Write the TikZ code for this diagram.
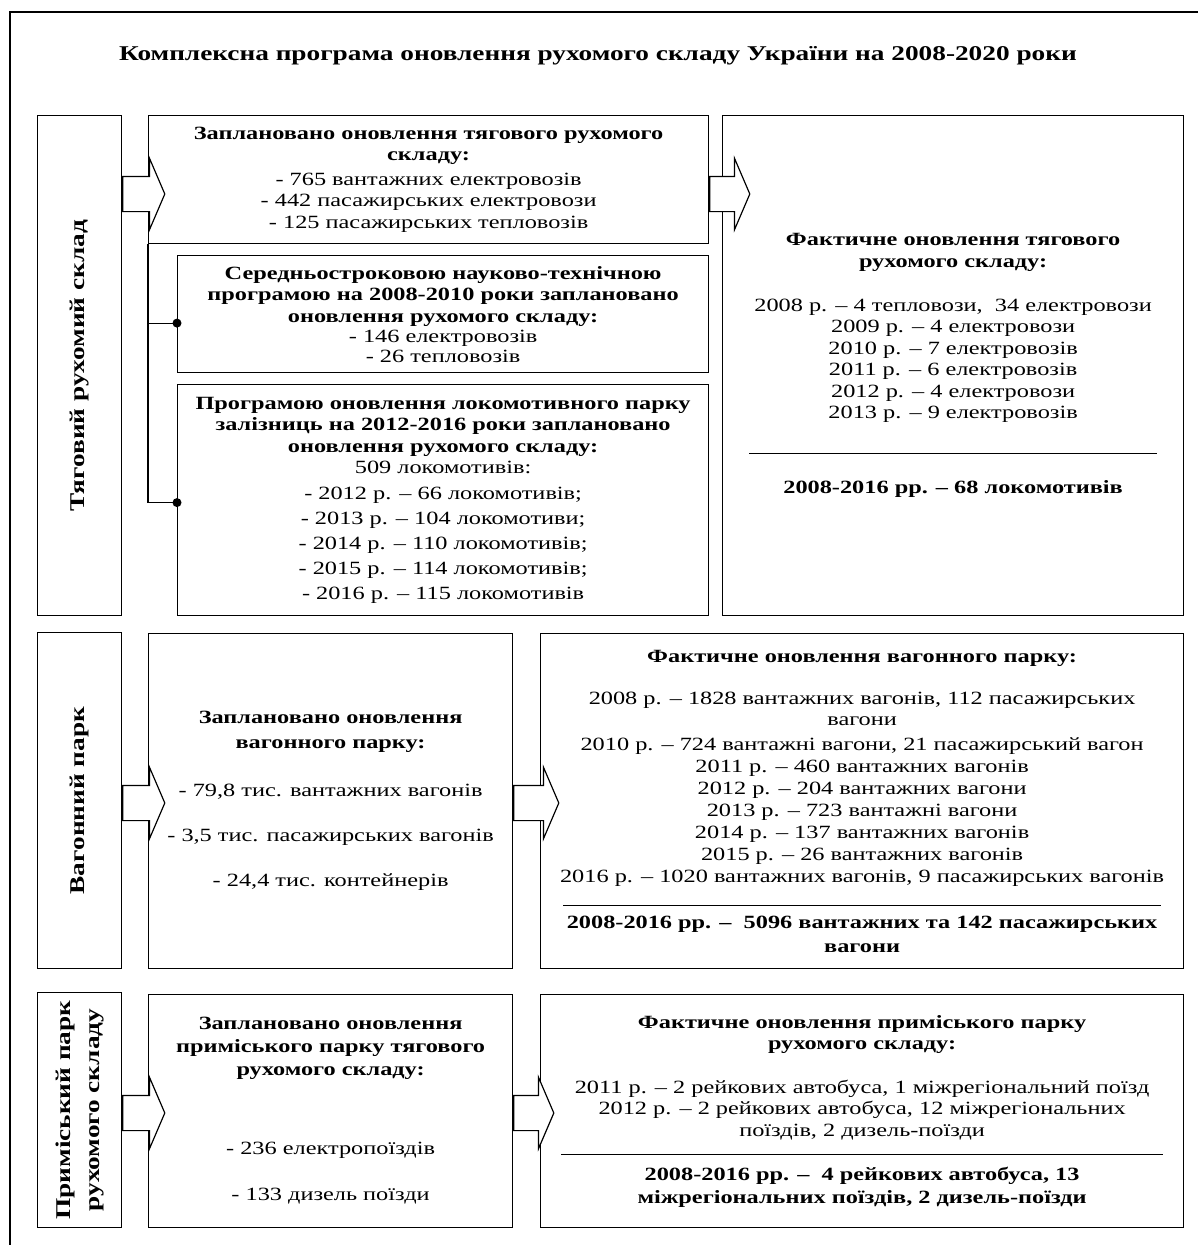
\documentclass[tikz,border=0pt]{standalone}
\usepackage{fontspec}
\setmainfont{Liberation Serif}[FakeStretch=1.3]
\usetikzlibrary{arrows,shapes.arrows}

\begin{document}
\begin{tikzpicture}[x=1pt,y=-1pt,line width=1.2pt,font=\fontsize{18.7pt}{21.5pt}\selectfont]
    \tikzstyle{box}=[draw,align=center,inner sep=0pt,anchor=north west]
    \tikzstyle{side}=[box,font=\fontsize{21pt}{29pt}\selectfont\bfseries]
    \tikzstyle{bigarrow}=[draw,fill=white,single arrow,anchor=tail,inner xsep=0pt,inner ysep=17pt,
        minimum height=42pt,single arrow head extend=18pt,single arrow tip angle=133.6]

    \useasboundingbox (0,0) rectangle (1198,1245);
    \draw[line width=1.6pt] (10,1250) |- (1205,12);

    \node[font=\fontsize{21pt}{24pt}\selectfont\bfseries] (T) at (598,56)
        {Комплексна програма оновлення рухомого складу України на 2008-2020 роки};

    \node[side,minimum width=84pt,minimum height=500pt] (A) at (37,115)
        {\rotatebox{90}{Тяговий рухомий склад}};
    \node[box,minimum width=560pt,minimum height=128pt] (B) at (148,115)
        {\textbf{Заплановано оновлення тягового рухомого}\\
         \textbf{складу:}\\[3pt]
         - 765 вантажних електровозів\\
         - 442 пасажирських електровози\\
         - 125 пасажирських тепловозів};
    \node[box,minimum width=531pt,minimum height=117pt] (B1) at (177,255)
        {\textbf{Середньостроковою науково-технічною}\\
         \textbf{програмою на 2008-2010 роки заплановано}\\
         \textbf{оновлення рухомого складу:}\\[-1pt]
         - 146 електровозів\\[-2pt]
         - 26 тепловозів};
    \node[box,minimum width=531pt,minimum height=231pt] (B2) at (177,384)
        {\textbf{Програмою оновлення локомотивного парку}\\
         \textbf{залізниць на 2012-2016 роки заплановано}\\
         \textbf{оновлення рухомого складу:}\\
         509 локомотивів:\\[4pt]
         - 2012 р. – 66 локомотивів;\\[3.5pt]
         - 2013 р. – 104 локомотиви;\\[3.5pt]
         - 2014 р. – 110 локомотивів;\\[3.5pt]
         - 2015 р. – 114 локомотивів;\\[3.5pt]
         - 2016 р. – 115 локомотивів};
    \node[box,minimum width=461pt,minimum height=500pt] (C) at (722,115)
        {\textbf{Фактичне оновлення тягового}\\
         \textbf{рухомого складу:}\\[22.5pt]
         2008 р. – 4 тепловози, \ 34 електровози\\
         2009 р. – 4 електровози\\
         2010 р. – 7 електровозів\\
         2011 р. – 6 електровозів\\
         2012 р. – 4 електровози\\
         2013 р. – 9 електровозів\\[13.5pt]
         \rule{408pt}{1.2pt}\\[18.5pt]
         \textbf{2008-2016 рр. – 68 локомотивів}};

    \node[side,minimum width=84pt,minimum height=336pt] (D) at (37,632)
        {\rotatebox{90}{Вагонний парк}};
    \node[box,minimum width=364pt,minimum height=335pt] (E) at (148,633)
        {\textbf{Заплановано оновлення}\\[3.5pt]
         \textbf{вагонного парку:}\\[26.5pt]
         - 79,8 тис. вантажних вагонів\\[23.5pt]
         - 3,5 тис. пасажирських вагонів\\[23.5pt]
         - 24,4 тис. контейнерів};
    \node[box,minimum width=643pt,minimum height=335pt] (F) at (540,633)
        {\textbf{Фактичне оновлення вагонного парку:}\\[20.5pt]
         2008 р. – 1828 вантажних вагонів, 112 пасажирських\\
         вагони\\[3.5pt]
         2010 р. – 724 вантажні вагони, 21 пасажирський вагон\\[0.5pt]
         2011 р. – 460 вантажних вагонів\\[0.5pt]
         2012 р. – 204 вантажних вагони\\[0.5pt]
         2013 р. – 723 вантажні вагони\\[0.5pt]
         2014 р. – 137 вантажних вагонів\\[0.5pt]
         2015 р. – 26 вантажних вагонів\\[0.5pt]
         2016 р. – 1020 вантажних вагонів, 9 пасажирських вагонів\\[2pt]
         \rule{598pt}{1.2pt}\\[0.5pt]
         \textbf{2008-2016 рр. – \ 5096 вантажних та 142 пасажирських}\\[2.5pt]
         \textbf{вагони}};

    \node[side,minimum width=84pt,minimum height=235pt] (G) at (37,992)
        {\rotatebox{90}{\begin{tabular}{@{}c@{}}Приміський парк\\рухомого складу\end{tabular}}};
    \node[box,minimum width=364pt,minimum height=233pt] (H) at (148,994)
        {\textbf{Заплановано оновлення}\\[1.5pt]
         \textbf{приміського парку тягового}\\[1.5pt]
         \textbf{рухомого складу:}\\[57.5pt]
         - 236 електропоїздів\\[24.5pt]
         - 133 дизель поїзди};
    \node[box,minimum width=643pt,minimum height=233pt] (K) at (540,994)
        {\textbf{Фактичне оновлення приміського парку}\\
         \textbf{рухомого складу:}\\[22pt]
         2011 р. – 2 рейкових автобуса, 1 міжрегіональний поїзд\\
         2012 р. – 2 рейкових автобуса, 12 міжрегіональних\\
         поїздів, 2 дизель-поїзди\\[-2.5pt]
         \rule{602pt}{1.2pt}\\[3.5pt]
         \textbf{2008-2016 рр. – \ 4 рейкових автобуса, 13}\\[1.5pt]
         \textbf{міжрегіональних поїздів, 2 дизель-поїзди}};

    \node[bigarrow] (a1) at (A.east |- 0,194) {};
    \node[bigarrow,minimum height=40pt] (a2) at (B.east |- 0,194) {};
    \node[bigarrow] (a3) at (D.east |- 0,803) {};
    \node[bigarrow,minimum height=45pt] (a4) at (E.east |- 0,803) {};
    \node[bigarrow] (a5) at (G.east |- 0,1113) {};
    \node[bigarrow,minimum height=40pt] (a6) at (H.east |- 0,1113) {};

    \coordinate (j1) at ([yshift=-9pt]B1.west);
    \coordinate (j2) at ([yshift=-2.5pt]B2.west);
    \draw (B.south west) |- (j1);
    \draw (B.south west) |- (j2);
    \fill (j1) circle (4.5pt);
    \fill (j2) circle (4.5pt);
\end{tikzpicture}
\end{document}
